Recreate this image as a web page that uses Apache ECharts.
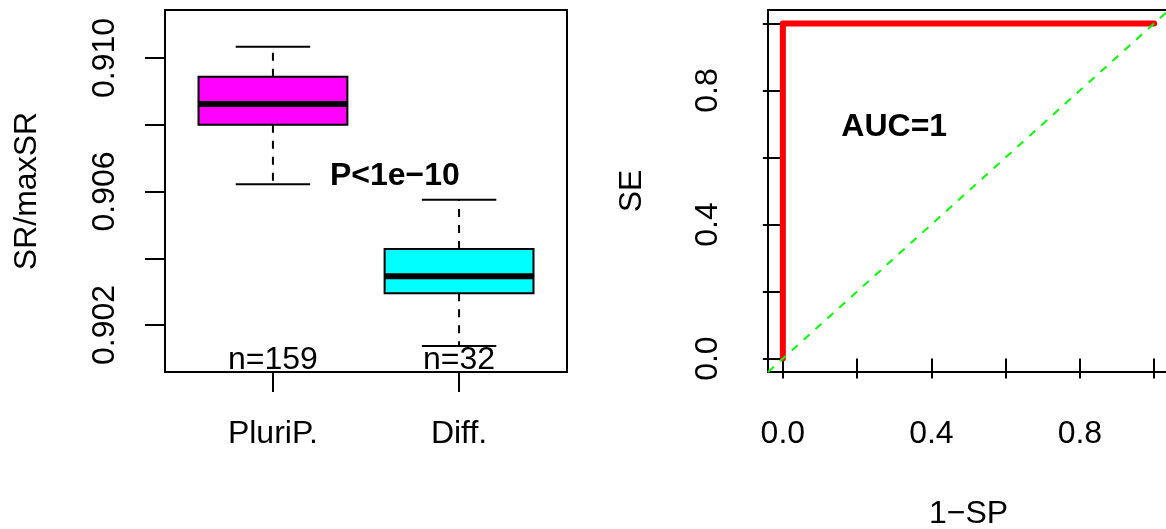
<!DOCTYPE html>
<html>
<head>
<meta charset="utf-8">
<title>SR/maxSR and ROC</title>
<script src="https://cdn.jsdelivr.net/npm/echarts@6/dist/echarts.min.js"></script>
<style>
  html, body { margin: 0; padding: 0; background: #fff; }
  #chart { width: 1166px; height: 529px; }
</style>
</head>
<body>
<div id="chart"></div>
<script>
// Groups and their sizes
const groups = ['PluriP.', 'Diff.'];
const groupCounts = [159, 32];
const groupColors = ['#FF00FF', '#00FFFF'];

// Five-number summaries: lower whisker, Q1, median, Q3, upper whisker
const pluriStats = [0.90622, 0.90800, 0.90862, 0.90944, 0.91034];
const diffStats = [0.90137, 0.90295, 0.90346, 0.90428, 0.90575];

// Tick positions and labelled ticks of the SR/maxSR axis
const ratioTicks = [0.902, 0.904, 0.906, 0.908, 0.910];
const ratioLabels = [0.902, 0.906, 0.910];

// ROC curve points (1-SP, SE)
const rocFpr = [0, 0, 1];
const rocTpr = [0, 1, 1];

// Ticks of the ROC axes
const rocTicks = [0, 0.2, 0.4, 0.6, 0.8, 1.0];
const rocLabels = [0, 0.4, 0.8];

// Annotations
const pValueNote = { x: 1.655, y: 0.90647, text: 'P<1e\u221210' };
const aucNote = { x: 0.3, y: 0.69, text: 'AUC=1' };
const countLabelY = 0.90095;

const FONT = '"Liberation Sans", Arial, Helvetica, sans-serif';
const FS = 32;

const chart = echarts.init(document.getElementById('chart'), null, { renderer: 'canvas' });

const boxData = [pluriStats, diffStats].map((s, i) => [i + 1].concat(s));

function renderBox(params, api) {
  const x = api.value(0);
  const low = api.value(1), q1 = api.value(2), med = api.value(3), q3 = api.value(4), high = api.value(5);
  const halfBox = api.size([0.8, 0])[0] / 2;
  const halfCap = api.size([0.4, 0])[0] / 2;
  const pLow = api.coord([x, low]);
  const pQ1 = api.coord([x, q1]);
  const pMed = api.coord([x, med]);
  const pQ3 = api.coord([x, q3]);
  const pHigh = api.coord([x, high]);
  const cx = pMed[0];
  const dashed = { stroke: '#000', lineWidth: 2, lineDash: [8, 8] };
  const solid = { stroke: '#000', lineWidth: 2 };
  return {
    type: 'group',
    children: [
      { type: 'line', shape: { x1: cx, y1: pQ3[1], x2: cx, y2: pHigh[1] }, style: dashed },
      { type: 'line', shape: { x1: cx, y1: pQ1[1], x2: cx, y2: pLow[1] }, style: dashed },
      { type: 'line', shape: { x1: cx - halfCap, y1: pHigh[1], x2: cx + halfCap, y2: pHigh[1] }, style: solid },
      { type: 'line', shape: { x1: cx - halfCap, y1: pLow[1], x2: cx + halfCap, y2: pLow[1] }, style: solid },
      {
        type: 'rect',
        shape: { x: cx - halfBox, y: pQ3[1], width: halfBox * 2, height: pQ1[1] - pQ3[1] },
        style: { fill: groupColors[params.dataIndex], stroke: '#000', lineWidth: 2 }
      },
      { type: 'line', shape: { x1: cx - halfBox, y1: pMed[1], x2: cx + halfBox, y2: pMed[1] }, style: { stroke: '#000', lineWidth: 6 } }
    ]
  };
}

const tickStyle = { show: true, inside: false, length: 20, lineStyle: { color: '#000', width: 2 } };
const labelBase = { fontSize: FS, fontFamily: FONT, color: '#000' };
const nameBase = { fontSize: FS, fontFamily: FONT, color: '#000' };

const textSeries = (xIdx, yIdx, items, bold) => ({
  type: 'scatter',
  xAxisIndex: xIdx,
  yAxisIndex: yIdx,
  symbolSize: 0,
  silent: true,
  z: 10,
  itemStyle: { opacity: 1 },
  data: items.map(it => ({ value: [it.x, it.y], name: it.text })),
  label: {
    show: true,
    position: 'inside',
    formatter: p => p.name,
    fontSize: FS,
    fontFamily: FONT,
    fontWeight: bold ? 'bold' : 'normal',
    color: '#000',
    opacity: 1
  }
});

const gridBase = {
  top: 10, height: 362, show: true, borderColor: '#000', borderWidth: 2,
  backgroundColor: 'transparent', containLabel: false, outerBoundsMode: 'none'
};

const option = {
  animation: false,
  backgroundColor: '#fff',
  grid: [
    Object.assign({ left: 165, width: 402 }, gridBase),
    Object.assign({ left: 768, width: 401 }, gridBase)
  ],
  xAxis: [
    {
      gridIndex: 0, type: 'value', min: 0.42, max: 2.58,
      splitLine: { show: false }, axisLine: { show: false },
      axisTick: Object.assign({}, tickStyle, { customValues: [1, 2] }),
      axisLabel: Object.assign({}, labelBase, { customValues: [1, 2], margin: 46, formatter: v => groups[Math.round(v) - 1] })
    },
    {
      gridIndex: 1, type: 'value', min: -0.04, max: 1.04,
      name: '1\u2212SP', nameLocation: 'middle', nameGap: 126, nameTextStyle: nameBase,
      splitLine: { show: false }, axisLine: { show: false },
      axisTick: Object.assign({}, tickStyle, { customValues: rocTicks }),
      axisLabel: Object.assign({}, labelBase, { customValues: rocLabels, margin: 46, formatter: v => v.toFixed(1) })
    }
  ],
  yAxis: [
    {
      gridIndex: 0, type: 'value', min: 0.900592, max: 0.911438,
      name: 'SR/maxSR', nameLocation: 'middle', nameGap: 122, nameTextStyle: nameBase,
      splitLine: { show: false }, axisLine: { show: false },
      axisTick: Object.assign({}, tickStyle, { customValues: ratioTicks }),
      axisLabel: Object.assign({}, labelBase, { customValues: ratioLabels, rotate: 90, margin: 44, formatter: v => v.toFixed(3) })
    },
    {
      gridIndex: 1, type: 'value', min: -0.04, max: 1.04,
      name: 'SE', nameLocation: 'middle', nameGap: 120, nameTextStyle: nameBase,
      splitLine: { show: false }, axisLine: { show: false },
      axisTick: Object.assign({}, tickStyle, { customValues: rocTicks }),
      axisLabel: Object.assign({}, labelBase, { customValues: rocLabels, rotate: 90, margin: 44, formatter: v => v.toFixed(1) })
    }
  ],
  series: [
    {
      type: 'custom',
      xAxisIndex: 0, yAxisIndex: 0,
      renderItem: renderBox,
      data: boxData,
      encode: { x: 0, y: [1, 2, 3, 4, 5] },
      silent: true
    },
    textSeries(0, 0, groups.map((g, i) => ({ x: i + 1, y: countLabelY, text: 'n=' + groupCounts[i] })), false),
    textSeries(0, 0, [pValueNote], true),
    {
      type: 'line',
      xAxisIndex: 1, yAxisIndex: 1,
      data: rocFpr.map((f, i) => [f, rocTpr[i]]),
      showSymbol: false, symbol: 'none', silent: true,
      lineStyle: { color: '#FF0000', width: 6, cap: 'round', join: 'round' },
      z: 3
    },
    {
      type: 'line',
      xAxisIndex: 1, yAxisIndex: 1,
      data: [[-0.04, -0.04], [1.04, 1.04]],
      showSymbol: false, symbol: 'none', silent: true,
      lineStyle: { color: '#00FF00', width: 2, type: [8, 8] },
      z: 4
    },
    textSeries(1, 1, [aucNote], true)
  ]
};

chart.setOption(option);
</script>
</body>
</html>
